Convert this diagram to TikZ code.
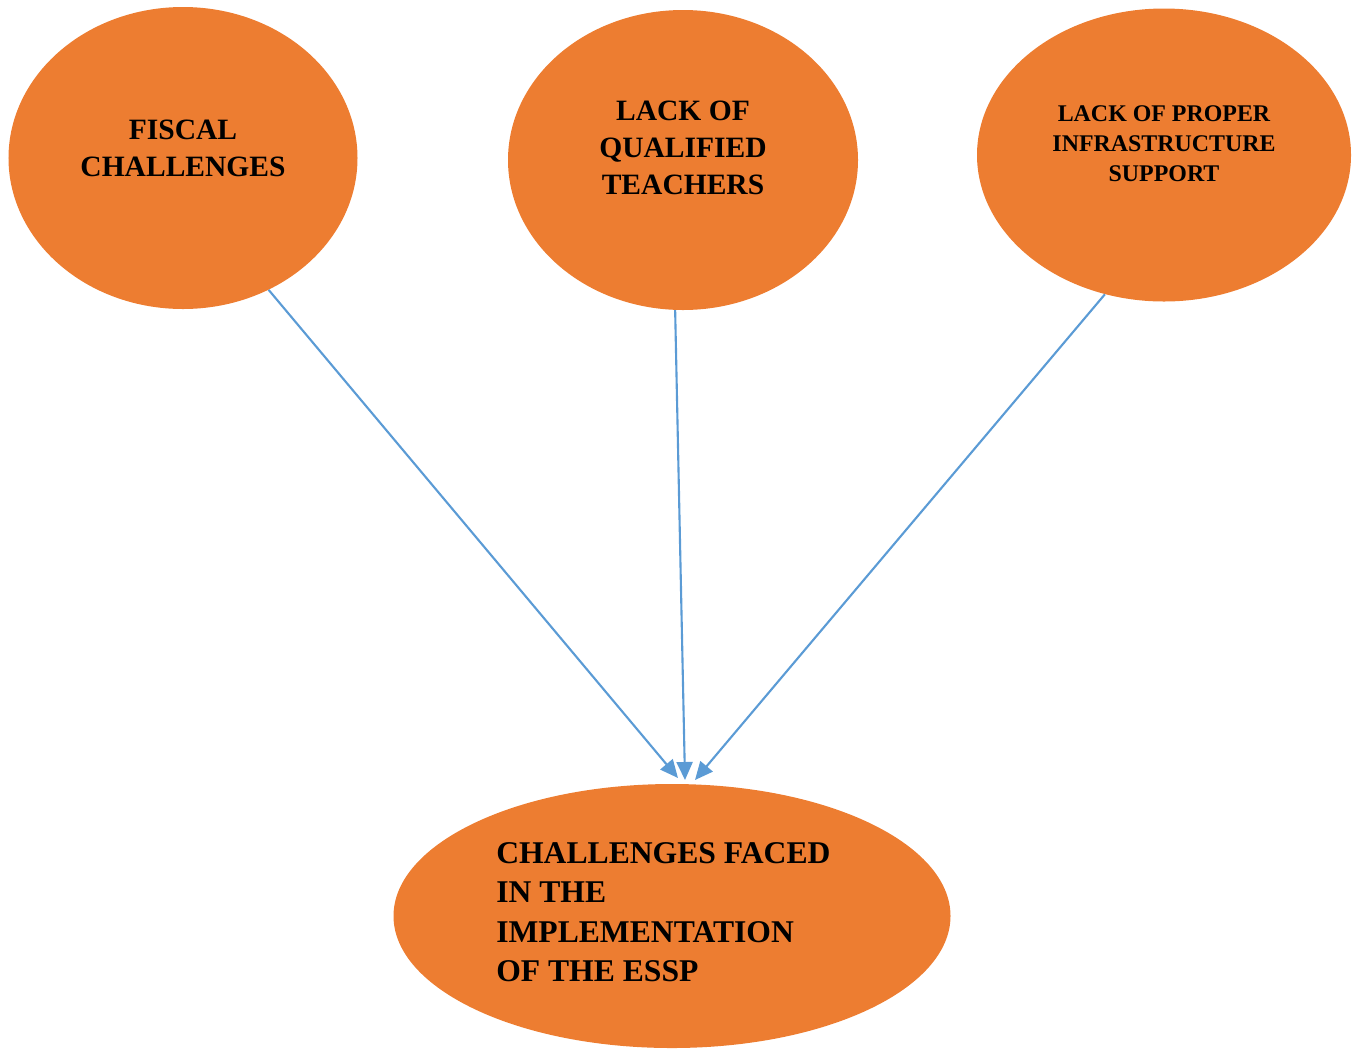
\documentclass[tikz,border=0pt]{standalone}
\usepackage{fontspec}
\setmainfont{Liberation Serif}
\usetikzlibrary{shapes.geometric,arrows.meta}
\definecolor{essporange}{RGB}{237,125,49}
\definecolor{arrowblue}{RGB}{91,155,213}

\begin{document}
\begin{tikzpicture}[
        bubble/.style={ellipse, fill=essporange, inner sep=0pt},
        caption/.style={align=center, inner sep=0pt, font=\bfseries\fontsize{21}{26.3}\selectfont},
        link/.style={draw=arrowblue, line width=1.5pt, -{Triangle[length=0.45cm,width=0.4cm]}}
    ]
        \useasboundingbox (0,0) rectangle (33.9,-26.225);
        % the three causes
        \node[bubble, minimum width=8.725cm, minimum height=7.55cm] (fiscal) at (4.575,-3.95) {};
        \node[bubble, minimum width=8.75cm, minimum height=7.5cm] (teachers) at (17.075,-4.0) {};
        \node[bubble, minimum width=9.35cm, minimum height=7.325cm] (infra) at (29.1,-3.875) {};
        \node[caption, yshift=0.25cm] (fiscal text) at (fiscal) {FISCAL\\CHALLENGES};
        \node[caption, yshift=0.3cm] (teachers text) at (teachers) {LACK OF\\QUALIFIED\\TEACHERS};
        \node[caption, yshift=0.275cm, font=\bfseries\fontsize{17}{21.3}\selectfont] (infra text) at (infra) {LACK OF PROPER\\INFRASTRUCTURE\\SUPPORT};
        % the effect
        \node[bubble, minimum width=13.925cm, minimum height=6.6cm] (goal) at (16.8,-22.9) {};
        \node[caption, anchor=west, align=left, font=\bfseries\fontsize{22.5}{28.1}\selectfont] (goal text) at (12.4,-22.8) {CHALLENGES FACED\\IN THE\\IMPLEMENTATION\\OF THE ESSP};
        \coordinate (tip1) at (16.95,-19.45);
        \coordinate (tip2) at (17.125,-19.5);
        \coordinate (tip3) at (17.375,-19.5);
        \draw[link] (fiscal.-57) -- (tip1);
        \draw[link] (teachers.-93) -- (tip2);
        \draw[link] (infra.-113) -- (tip3);
    \end{tikzpicture}
\end{document}
